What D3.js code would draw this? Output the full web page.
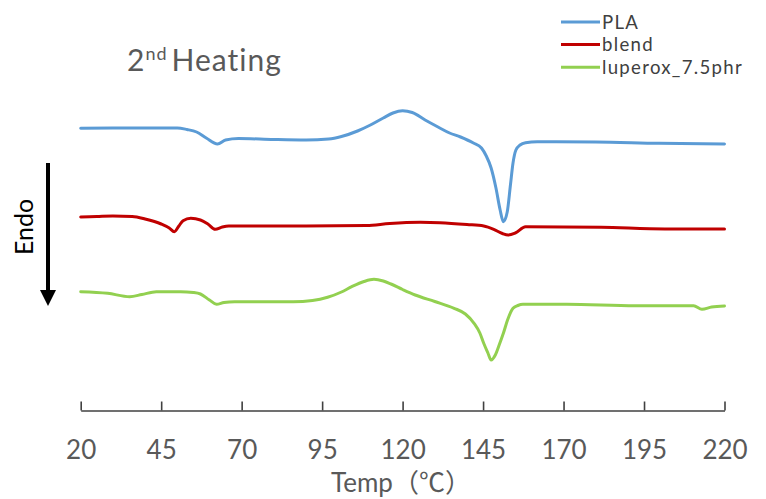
<!DOCTYPE html>
<html>
<head>
<meta charset="utf-8">
<script src="https://cdn.jsdelivr.net/npm/d3@7"></script>
<style>
  html, body { margin: 0; padding: 0; background: #fff; }
  svg { display: block; }
</style>
</head>
<body>
<svg id="chart" width="766" height="499"></svg>
<script>
// DSC second-heating thermograms (heat flow, arbitrary units, endo down)
const xTicks = [20, 45, 70, 95, 120, 145, 170, 195, 220];
const seriesNames = ["PLA", "blend", "luperox_7.5phr"];
const seriesColors = ["#5B9BD5", "#C00000", "#92D050"];

const plaTemp = [20, 30, 40, 50, 53, 56, 59, 62.5, 65, 69, 80, 90, 97, 101, 106, 110, 114, 117, 120, 123, 127, 131, 134.6, 138, 142, 144.5, 146, 147.5, 149, 150.3, 151.3, 152.5, 153.5, 154.3, 155.2, 156.5, 158.2, 161.8, 180, 199.6, 220];
const plaFlow = [2.797, 2.80, 2.80, 2.80, 2.785, 2.76, 2.70, 2.64, 2.68, 2.695, 2.685, 2.68, 2.69, 2.715, 2.77, 2.83, 2.90, 2.95, 2.973, 2.955, 2.88, 2.81, 2.75, 2.71, 2.65, 2.60, 2.52, 2.40, 2.20, 1.98, 1.863, 1.96, 2.23, 2.45, 2.58, 2.63, 2.653, 2.663, 2.66, 2.647, 2.64];

const blendTemp = [20, 25, 30, 36, 40, 45, 47.5, 49.1, 50.5, 51.8, 54.2, 57.2, 59.5, 61.8, 64, 66, 90, 108.8, 116, 125.5, 131.6, 140, 145.2, 148.3, 151, 152.8, 155, 158.2, 181.7, 201.5, 220];
const blendFlow = [1.91, 1.915, 1.92, 1.915, 1.89, 1.84, 1.80, 1.763, 1.82, 1.873, 1.897, 1.88, 1.84, 1.787, 1.81, 1.82, 1.82, 1.825, 1.845, 1.857, 1.853, 1.835, 1.82, 1.787, 1.745, 1.73, 1.75, 1.813, 1.807, 1.79, 1.79];

const luperoxTemp = [20, 28.4, 35.2, 39, 43.5, 51, 55, 57.2, 60, 62.2, 64.5, 67.8, 86, 92, 96.7, 101, 104.2, 108, 111.1, 114, 116.4, 120, 123.9, 130, 136, 139.5, 142.2, 144, 145.2, 146.5, 147.5, 148.8, 150, 151.3, 152.6, 154.3, 155.8, 157.4, 171, 192.2, 210.4, 213, 216, 220];
const luperoxFlow = [1.163, 1.147, 1.113, 1.135, 1.163, 1.163, 1.155, 1.14, 1.08, 1.037, 1.055, 1.063, 1.063, 1.075, 1.107, 1.16, 1.213, 1.265, 1.287, 1.27, 1.24, 1.185, 1.13, 1.065, 0.997, 0.94, 0.847, 0.75, 0.647, 0.55, 0.48, 0.53, 0.63, 0.747, 0.88, 0.997, 1.025, 1.037, 1.037, 1.023, 1.023, 0.987, 1.01, 1.02];

const series = [
  { name: seriesNames[0], color: seriesColors[0], temp: plaTemp, flow: plaFlow },
  { name: seriesNames[1], color: seriesColors[1], temp: blendTemp, flow: blendFlow },
  { name: seriesNames[2], color: seriesColors[2], temp: luperoxTemp, flow: luperoxFlow }
];

const svg = d3.select("#chart");
const fontFamily = "Lato, 'Noto Sans CJK SC', sans-serif";

const x = d3.scaleLinear().domain([20, 220]).range([80.7, 724.5]);
const y = d3.scaleLinear().domain([0, 3]).range([408, 108]);
const axisY = 410.5;

// curves
const line = d3.line()
  .x(d => x(d[0]))
  .y(d => y(d[1]))
  .curve(d3.curveMonotoneX);

svg.append("g").selectAll("path")
  .data(series)
  .join("path")
  .attr("d", s => line(s.temp.map((t, i) => [t, s.flow[i]])))
  .attr("fill", "none")
  .attr("stroke", s => s.color)
  .attr("stroke-width", 3)
  .attr("stroke-linejoin", "round")
  .attr("stroke-linecap", "round");

// x axis, ticks pointing up
const xAxis = d3.axisBottom(x)
  .tickValues(xTicks)
  .tickFormat(d3.format("d"))
  .tickSizeInner(-9)
  .tickSizeOuter(0);

const gx = svg.append("g")
  .attr("transform", `translate(0,${axisY})`)
  .call(xAxis);
gx.select(".domain").attr("stroke", "#404040").attr("stroke-width", 1.6);
gx.selectAll(".tick line").attr("stroke", "#404040").attr("stroke-width", 1.6);
gx.selectAll(".tick text")
  .attr("y", 48.5)
  .attr("dy", 0)
  .attr("fill", "#595959")
  .style("font-family", fontFamily)
  .style("font-size", "26px");

// axis title
svg.append("text")
  .attr("x", 401)
  .attr("y", 492)
  .attr("text-anchor", "middle")
  .attr("fill", "#595959")
  .style("font-family", fontFamily)
  .style("font-size", "26px")
  .text("Temp（℃）");

// title with superscript
const title = svg.append("text")
  .attr("x", 127)
  .attr("y", 71)
  .attr("fill", "#595959")
  .style("font-family", fontFamily)
  .style("font-size", "30px")
  .style("letter-spacing", "1px");
title.append("tspan").text("2");
title.append("tspan").attr("dy", -11).style("font-size", "18px").text("nd");
title.append("tspan").attr("dy", 11).attr("dx", 4).text("Heating");

// Endo direction arrow
svg.append("line")
  .attr("x1", 48).attr("x2", 48)
  .attr("y1", 163).attr("y2", 292)
  .attr("stroke", "#000")
  .attr("stroke-width", 4);
svg.append("path")
  .attr("d", "M40,290 L56,290 L48,306 Z")
  .attr("fill", "#000");

svg.append("text")
  .attr("transform", "translate(23,227) rotate(-90)")
  .attr("text-anchor", "middle")
  .attr("dominant-baseline", "central")
  .attr("fill", "#000")
  .style("font-family", fontFamily)
  .style("font-size", "25px")
  .text("Endo");

// legend
const legend = svg.append("g");
const legendRows = legend.selectAll("g")
  .data(series)
  .join("g")
  .attr("transform", (d, i) => `translate(0,${22 + i * 22.6})`);
legendRows.append("line")
  .attr("x1", 561).attr("x2", 600)
  .attr("y1", 0).attr("y2", 0)
  .attr("stroke", d => d.color)
  .attr("stroke-width", 3);
legendRows.append("text")
  .attr("x", 602)
  .attr("y", 0)
  .attr("dy", "0.36em")
  .attr("fill", "#404040")
  .style("font-family", fontFamily)
  .style("font-size", "18.6px")
  .style("letter-spacing", "1.3px")
  .text(d => d.name);
</script>
</body>
</html>
